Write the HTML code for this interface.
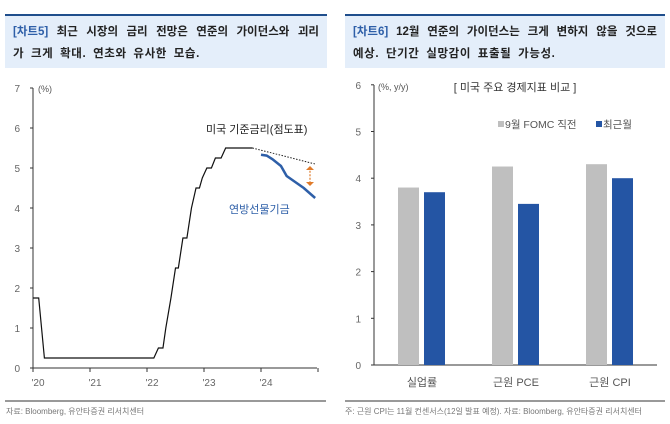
<!DOCTYPE html>
<html><head><meta charset="utf-8"><style>
body{margin:0;width:670px;height:424px;background:#fff;overflow:hidden;font-family:"Liberation Sans","Noto Sans CJK KR",sans-serif}
.hdr{position:absolute;top:14px;height:54px;background:#e4eefa;border-top:2px solid #1f4e8c;box-sizing:border-box;padding:5px 8px;font-size:11.5px;font-weight:bold;line-height:22px;color:#222}
.hdr span{color:#2e5fa8}
.l1{display:block;text-align:justify;text-align-last:justify;white-space:nowrap}
.l2{display:block;letter-spacing:0.6px;word-spacing:3px}
svg{position:absolute;top:0;left:0}
</style></head><body>
<div class="hdr" style="left:5px;width:322px"><div class="l1"><span>[차트5]</span> 최근 시장의 금리 전망은 연준의 가이던스와 괴리</div><div class="l2">가 크게 확대. 연초와 유사한 모습.</div></div>
<div class="hdr" style="left:345px;width:320px"><div class="l1"><span>[차트6]</span> 12월 연준의 가이던스는 크게 변하지 않을 것으로</div><div class="l2">예상. 단기간 실망감이 표출될 가능성.</div></div>
<svg id="s" width="670" height="424" font-family="Liberation Sans, Noto Sans CJK KR, sans-serif"></svg>
<script>
// Chart 5 data
const rateT=[2020.0,2020.1,2020.2,2022.12,2022.2,2022.28,2022.33,2022.42,2022.5,2022.55,2022.63,2022.7,2022.78,2022.86,2022.92,2022.97,2023.05,2023.13,2023.2,2023.3,2023.38,2023.5,2023.55,2023.85];
const rateV=[1.75,1.75,0.25,0.25,0.5,0.5,1.0,1.75,2.5,2.5,3.25,3.25,4.0,4.5,4.5,4.75,5.0,5.0,5.25,5.25,5.5,5.5,5.5,5.5];
const dotT=[2023.85,2024.95];
const dotV=[5.5,5.1];
const futT=[2024.0,2024.1,2024.2,2024.35,2024.45,2024.6,2024.75,2024.95];
const futV=[5.33,5.31,5.22,5.05,4.8,4.65,4.5,4.25];
const yTicks5=[0,1,2,3,4,5,6,7];
const xTicks5=["'20","'21","'22","'23","'24"];
// Chart 6 data
const cats=["실업률","근원 PCE","근원 CPI"];
const sepVals=[3.8,4.25,4.3];
const recVals=[3.7,3.45,4.0];
const yTicks6=[0,1,2,3,4,5,6];

const S=document.getElementById('s');const NS='http://www.w3.org/2000/svg';
function mk(t,a,txt){const e=document.createElementNS(NS,t);for(const k in a)e.setAttribute(k,a[k]);if(txt!=null)e.textContent=txt;S.appendChild(e);return e;}
const x5=t=>33+57*(t-2020), y5=v=>368-40*v;
let e=mk('line',{x1:33,y1:88,x2:33,y2:368,stroke:'#333'});

e=mk('line',{x1:33,y1:368,x2:317,y2:368,stroke:'#333'});

yTicks5.forEach(v=>{mk('line',{x1:30,x2:33,y1:y5(v),y2:y5(v),stroke:'#333'});
 e=mk('text',{x:20,y:y5(v)+4,'font-size':10,fill:'#666','text-anchor':'end'},v);
 });
xTicks5.forEach((l,i)=>{mk('line',{x1:x5(2020+i),x2:x5(2020+i),y1:368,y2:372,stroke:'#333'});
 e=mk('text',{x:x5(2020+i)+5,y:386,'font-size':10,fill:'#666','text-anchor':'middle'},l);
 });
mk('line',{x1:x5(2025),x2:x5(2025),y1:368,y2:372,stroke:'#333'});
e=mk('text',{x:38,y:92,'font-size':9,fill:'#555'},'(%)');
e=mk('polyline',{points:rateT.map((t,i)=>x5(t)+','+y5(rateV[i])).join(' '),fill:'none',stroke:'#111','stroke-width':1.2});

e=mk('polyline',{points:dotT.map((t,i)=>x5(t)+','+y5(dotV[i])).join(' '),fill:'none',stroke:'#222','stroke-width':1,'stroke-dasharray':'1.5,1.5'});

e=mk('polyline',{points:futT.map((t,i)=>x5(t)+','+y5(futV[i])).join(' '),fill:'none',stroke:'#2e5fa8','stroke-width':2.5});

e=mk('line',{x1:310,x2:310,y1:y5(5.02),y2:y5(4.58),stroke:'#e07b2a','stroke-width':1.2,'stroke-dasharray':'2,1.5'});

mk('polygon',{points:`306,${y5(4.95)} 314,${y5(4.95)} 310,${y5(5.05)}`,fill:'#e07b2a'});
mk('polygon',{points:`306,${y5(4.65)} 314,${y5(4.65)} 310,${y5(4.55)}`,fill:'#e07b2a'});
e=mk('text',{x:206,y:133,'font-size':11,fill:'#222'},'미국 기준금리(점도표)');
e=mk('text',{x:229,y:213,'font-size':11,fill:'#2e5fa8'},'연방선물기금');
mk('line',{x1:5,x2:326,y1:401,y2:401,stroke:'#333'});
e=mk('text',{x:6,y:414,'font-size':8,fill:'#777'},'자료: Bloomberg, 유안타증권 리서치센터');
const y6=v=>365-46.7*v;const gc=i=>422+94*i;
e=mk('line',{x1:374,y1:85,x2:374,y2:365,stroke:'#333'});
e=mk('line',{x1:374,y1:365,x2:657,y2:365,stroke:'#333'});
yTicks6.forEach(v=>{mk('line',{x1:371,x2:374,y1:y6(v),y2:y6(v),stroke:'#333'});
 e=mk('text',{x:361,y:y6(v)+4,'font-size':10,fill:'#666','text-anchor':'end'},v);
 });
cats.forEach((c,i)=>{
 e=mk('rect',{x:gc(i)-24,y:y6(sepVals[i]),width:21,height:y6(0)-y6(sepVals[i]),fill:'#bfbfbf'});
 
 e=mk('rect',{x:gc(i)+2,y:y6(recVals[i]),width:21,height:y6(0)-y6(recVals[i]),fill:'#2455a4'});
 
 e=mk('text',{x:gc(i),y:386,'font-size':11,fill:'#555','text-anchor':'middle'},c);
 });
e=mk('text',{x:378,y:90,'font-size':9,fill:'#555'},'(%, y/y)');
e=mk('text',{x:515,y:91,'font-size':11,fill:'#333','text-anchor':'middle'},'[ 미국 주요 경제지표 비교 ]');
mk('rect',{x:498,y:121,width:6,height:6,fill:'#bfbfbf'});
e=mk('text',{x:505,y:128,'font-size':10.5,fill:'#555'},'9월 FOMC 직전');
mk('rect',{x:596,y:121,width:6,height:6,fill:'#2455a4'});
e=mk('text',{x:603,y:128,'font-size':10.5,fill:'#555'},'최근월');
mk('line',{x1:345,x2:665,y1:401,y2:401,stroke:'#333'});
e=mk('text',{x:345,y:414,'font-size':8,fill:'#777'},'주: 근원 CPI는 11월 컨센서스(12일 발표 예정). 자료: Bloomberg, 유안타증권 리서치센터');
</script>
</body></html>
